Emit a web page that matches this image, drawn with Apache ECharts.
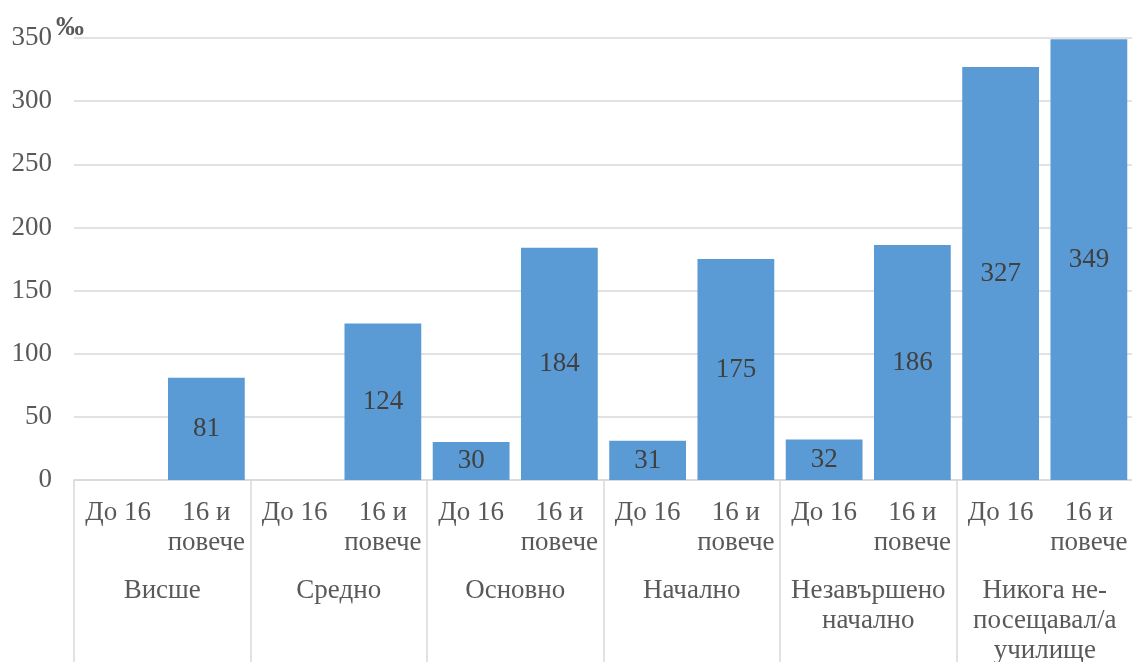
<!DOCTYPE html>
<html>
<head>
<meta charset="utf-8">
<script src="https://cdn.jsdelivr.net/npm/echarts@6/dist/echarts.min.js"></script>
<style>
  html, body { margin: 0; padding: 0; overflow: hidden; background: #fff; }
  #chart { width: 1133px; height: 662px; }
</style>
</head>
<body>
<div id="chart"></div>
<script>
// Education groups (outer axis level)
const groups = ['Висше', 'Средно', 'Основно', 'Начално', 'Незавършено\nначално', 'Никога не-\nпосещавал/а\nучилище'];
// Age subgroups (inner axis level)
const subgroups = ['До 16', '16 и\nповече'];
// Rate per 1000, one pair per education group: [До 16, 16 и повече]
const under16 = [null, null, 30, 31, 32, 327];
const over16 = [81, 124, 184, 175, 186, 349];
// Value axis
const yMin = 0, yMax = 350, yStep = 50;
const unitLabel = '‰';

const innerCats = [];
const values = [];
groups.forEach((g, i) => {
  innerCats.push(subgroups[0], subgroups[1]);
  values.push(under16[i], over16[i]);
});

const FONT = '"Liberation Serif", "Times New Roman", serif';
const TEXT = '#595959';
const LINE = '#d9d9d9';
const FS = 27;

const chart = echarts.init(document.getElementById('chart'), null, { renderer: 'canvas' });
chart.setOption({
  animation: false,
  textStyle: { fontFamily: FONT },
  grid: {
    left: 74, right: 0, top: 38, bottom: 182,
    containLabel: false, outerBoundsMode: 'none'
  },
  xAxis: [
    {
      // inner level: age subgroup under each bar
      type: 'category', data: innerCats, position: 'bottom',
      axisLine: { show: true, lineStyle: { color: LINE, width: 1.5 } },
      axisTick: { show: false },
      axisLabel: {
        interval: 0, margin: 18, color: TEXT, fontSize: FS, lineHeight: 30,
        fontFamily: FONT, align: 'center'
      }
    },
    {
      // outer level: education group, long ticks act as separators
      type: 'category', data: groups, position: 'bottom', offset: 0,
      axisLine: { show: false },
      axisTick: {
        show: true, interval: 0, length: 200, inside: false,
        lineStyle: { color: LINE, width: 1.5 }
      },
      axisLabel: {
        interval: 0, margin: 96, color: TEXT, fontSize: FS, lineHeight: 30,
        fontFamily: FONT, align: 'center'
      }
    }
  ],
  yAxis: {
    type: 'value', min: yMin, max: yMax, interval: yStep,
    axisLine: { show: false }, axisTick: { show: false },
    axisLabel: { color: TEXT, fontSize: FS, margin: 22, fontFamily: FONT },
    splitLine: { show: true, lineStyle: { color: LINE, width: 1.5 } }
  },
  graphic: [{
    type: 'text', left: 56, top: 14,
    style: { text: unitLabel, fill: TEXT, font: 'bold 28px ' + FONT }
  }],
  series: [{
    type: 'bar', xAxisIndex: 0, data: values, barCategoryGap: '13%',
    itemStyle: { color: '#5b9bd5' },
    label: {
      show: true, position: 'inside', color: '#404040', fontSize: FS,
      fontFamily: FONT
    }
  }]
});
</script>
</body>
</html>
